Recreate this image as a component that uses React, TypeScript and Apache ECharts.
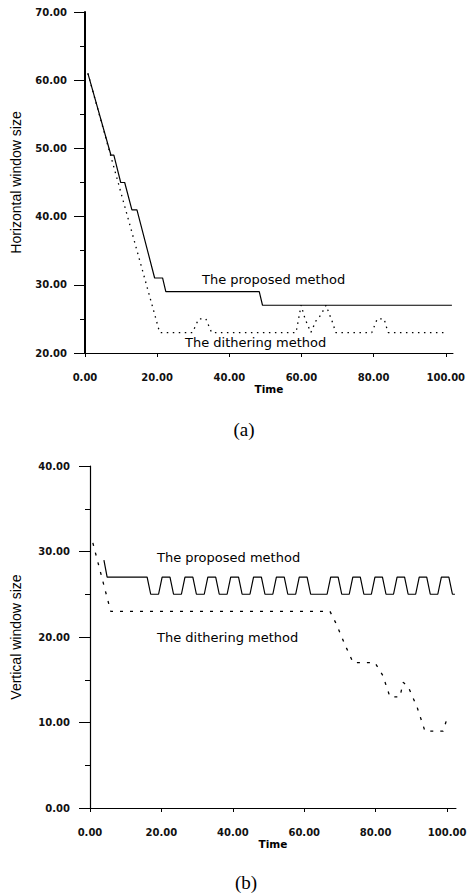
import React, { useEffect, useRef } from "react";
import * as echarts from "echarts";

// ---- (a) Horizontal window size ----
const propATime = [0.8, 7.2, 8.0, 9.9, 11.0, 13.0, 14.4, 19.3, 21.5, 22.4, 48.3, 49.2, 101.7];
const propAValue = [61, 49, 49, 45, 45, 41, 41, 31, 31, 29, 29, 27, 27];
const dithATime = [0.8, 20.7, 29.8, 31.5, 33.5, 35.1, 58.5, 59.9, 61.0, 62.6, 64.0, 65.4, 66.8, 68.6, 69.5, 79.5, 81.0, 82.9, 84.0, 100];
const dithAValue = [61, 23, 23, 25, 25, 23, 23, 27, 25, 23, 24.7, 25.6, 27, 24.5, 23, 23, 25, 25, 23, 23];

// ---- (b) Vertical window size ----
const propBTime = [3.9, 4.8, 16.0, 17.0, 19.2, 20.2, 22.4, 23.4, 25.6, 26.6, 28.8, 29.8, 32.0, 33.0, 35.2, 36.2, 38.4, 39.4, 41.6, 42.6, 44.8, 45.8, 48.0, 49.0, 51.2, 52.2, 54.4, 55.4, 57.6, 58.6, 60.8, 61.8, 66.4, 67.4, 69.5, 70.5, 72.6, 73.6, 75.7, 76.7, 78.8, 79.8, 81.9, 82.9, 85.0, 86.0, 88.1, 89.1, 91.2, 92.2, 94.3, 95.3, 97.4, 98.4, 100.5, 101.5, 102.2];
const propBValue = [29, 27, 27, 25, 25, 27, 27, 25, 25, 27, 27, 25, 25, 27, 27, 25, 25, 27, 27, 25, 25, 27, 27, 25, 25, 27, 27, 25, 25, 27, 27, 25, 25, 27, 27, 25, 25, 27, 27, 25, 25, 27, 27, 25, 25, 27, 27, 25, 25, 27, 27, 25, 25, 27, 27, 25, 25];
const dithBTime = [0.8, 2.8, 5.8, 67.2, 69.0, 71.5, 73.7, 79.8, 82.0, 84.0, 86.8, 87.7, 89.1, 91.6, 93.8, 98.9, 100.3];
const dithBValue = [31, 27.8, 23, 23, 21.5, 19, 17, 17, 15.5, 13, 13, 14.7, 14.2, 11.8, 9, 9, 10.9];

const xTicks = [0, 20, 40, 60, 80, 100];

const labelProposed = "The proposed method";
const labelDithering = "The dithering method";

const pairs = (t: number[], v: number[]) => t.map((x, i) => [x, v[i]]);

const SANS = "'DejaVu Sans', Verdana, sans-serif";
const ARIAL = "'Liberation Sans', Arial, sans-serif";
const SERIF = "'Liberation Serif', 'DejaVu Serif', serif";

function xAxisCfg(gridIndex: number, max: number) {
  return {
    type: "value" as const,
    gridIndex,
    min: 0,
    max,
    interval: 20,
    name: "Time",
    nameLocation: "middle" as const,
    nameGap: 30,
    nameTextStyle: { fontFamily: SANS, fontSize: 10.5, fontWeight: "bold" as const, color: "#000" },
    axisLine: { show: true, lineStyle: { color: "#000", width: 1 } },
    axisTick: { show: true, length: 4, customValues: xTicks, lineStyle: { color: "#000" } },
    axisLabel: {
      customValues: xTicks,
      margin: 19,
      fontFamily: SANS,
      fontSize: 10,
      fontWeight: "bold" as const,
      color: "#111",
      formatter: (v: number) => v.toFixed(2),
    },
    splitLine: { show: false },
  };
}

function yAxisCfg(gridIndex: number, min: number, max: number, name: string, gap: number, margin: number, lw: number) {
  return {
    type: "value" as const,
    gridIndex,
    min,
    max,
    interval: 10,
    name,
    nameLocation: "middle" as const,
    nameGap: gap,
    nameTextStyle: { fontFamily: ARIAL, fontSize: 14, color: "#000" },
    axisLine: { show: true, lineStyle: { color: "#000", width: lw } },
    axisTick: { show: true, length: 11, lineStyle: { color: "#000" } },
    minorTick: { show: true, splitNumber: 2, length: 5, lineStyle: { color: "#000" } },
    axisLabel: {
      margin,
      fontFamily: SANS,
      fontSize: 10,
      fontWeight: "bold" as const,
      color: "#111",
      formatter: (v: number) => v.toFixed(2),
    },
    splitLine: { show: false },
  };
}

export default function App() {
  const ref = useRef<HTMLDivElement>(null);
  useEffect(() => {
    if (!ref.current) return;
    const chart = echarts.init(ref.current, undefined, { renderer: "svg" });
    chart.setOption({
      animation: false,
      backgroundColor: "#fff",
      grid: [
        { left: 85, top: 12, width: 368, height: 341 },
        { left: 90, top: 466, width: 366, height: 342 },
      ],
      xAxis: [xAxisCfg(0, 102), xAxisCfg(1, 102.5)],
      yAxis: [
        yAxisCfg(0, 20, 70, "Horizontal window size", 62, 18, 2),
        yAxisCfg(1, 0, 40, "Vertical window size", 67, 20, 1.2),
      ],
      series: [
        {
          type: "line",
          xAxisIndex: 0,
          yAxisIndex: 0,
          data: pairs(propATime, propAValue),
          showSymbol: false,
          lineStyle: { color: "#000", width: 1.2 },
        },
        {
          type: "line",
          xAxisIndex: 0,
          yAxisIndex: 0,
          data: pairs(dithATime, dithAValue),
          showSymbol: false,
          lineStyle: { color: "#000", width: 1.3, type: [1.5, 4.5] },
        },
        {
          type: "line",
          xAxisIndex: 1,
          yAxisIndex: 1,
          data: pairs(propBTime, propBValue),
          showSymbol: false,
          lineStyle: { color: "#000", width: 1.2 },
        },
        {
          type: "line",
          xAxisIndex: 1,
          yAxisIndex: 1,
          data: pairs(dithBTime, dithBValue),
          showSymbol: false,
          lineStyle: { color: "#000", width: 1.3, type: [3, 7] },
        },
      ],
      graphic: [
        { type: "text", x: 202, y: 279, style: { text: labelProposed, font: `13px ${SANS}`, fill: "#000", textVerticalAlign: "middle" } },
        { type: "text", x: 185, y: 342, style: { text: labelDithering, font: `13px ${SANS}`, fill: "#000", textVerticalAlign: "middle" } },
        { type: "text", x: 157, y: 557, style: { text: labelProposed, font: `13px ${SANS}`, fill: "#000", textVerticalAlign: "middle" } },
        { type: "text", x: 157, y: 637, style: { text: labelDithering, font: `13px ${SANS}`, fill: "#000", textVerticalAlign: "middle" } },
        { type: "text", x: 244, y: 429, style: { text: "(a)", font: `19px ${SERIF}`, fill: "#000", textAlign: "center", textVerticalAlign: "middle" } },
        { type: "text", x: 246, y: 882, style: { text: "(b)", font: `19px ${SERIF}`, fill: "#000", textAlign: "center", textVerticalAlign: "middle" } },
      ],
    });
    return () => chart.dispose();
  }, []);
  return (
    <div
      ref={ref}
      style={{ position: "absolute", left: 0, top: 0, width: 473, height: 895, background: "#fff" }}
    />
  );
}
